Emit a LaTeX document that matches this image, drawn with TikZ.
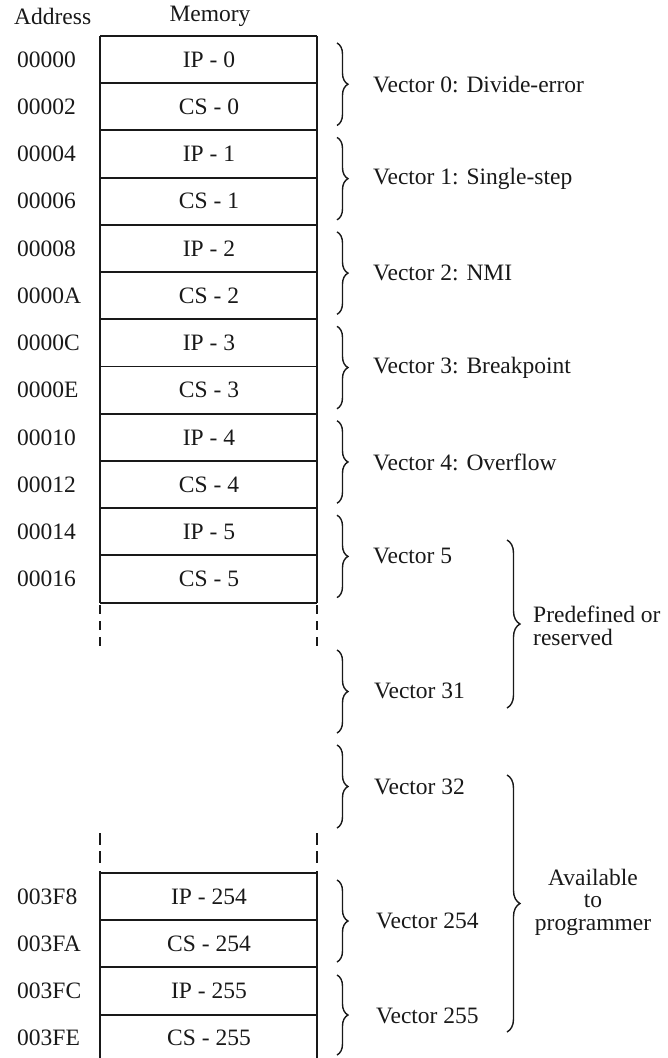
\documentclass[tikz,border=0pt]{standalone}
\usepackage{fontspec}
\setmainfont{Liberation Serif}
\usetikzlibrary{decorations.pathreplacing}
\begin{document}
\begin{tikzpicture}[x=1pt,y=-1pt,
  txt/.style={font=\fontsize{23.5}{22.5}\selectfont, inner sep=0pt, text=black!90},
  cell/.style={txt, anchor=center},
  addr/.style={txt, anchor=west},
  vec/.style={txt, anchor=west},
  memline/.style={line width=1.9pt, draw=black!90},
  br/.style={line width=1.4pt, draw=black!90, decorate, decoration={brace, amplitude=11pt}},
]
\useasboundingbox (0,0) rectangle (667,1058);
% headers
\node[txt, anchor=west] (hAddr) at (14,16) {Address};
\node[txt] (hMem) at (210,16) {Memory};
% top memory block
\foreach \k/\ad/\ce in {0/00000/IP - 0, 1/00002/CS - 0, 2/00004/IP - 1, 3/00006/CS - 1,
  4/00008/IP - 2, 5/0000A/CS - 2, 6/0000C/IP - 3, 7/0000E/CS - 3,
  8/00010/IP - 4, 9/00012/CS - 4, 10/00014/IP - 5, 11/00016/CS - 5}{
  \pgfmathsetmacro\yc{36+47.22*(\k+0.5)}
  \node[addr] (a\k) at (17,\yc) {\ad};
  \node[cell] (c\k) at (209,\yc) {\ce};
}
\foreach \k in {0,...,12}{
  \draw[memline] (100,{36+47.22*\k}) -- (317,{36+47.22*\k});
}
\draw[memline] (100,36) -- (100,603);
\draw[memline] (317,36) -- (317,603);
\draw[memline, dash pattern=on 9pt off 7pt] (100,605) -- (100,648);
\draw[memline, dash pattern=on 9pt off 7pt] (317,605) -- (317,648);
% bottom memory block
\draw[memline, dash pattern=on 12pt off 6pt] (100,833) -- (100,863);
\draw[memline, dash pattern=on 12pt off 6pt] (317,833) -- (317,863);
\draw[memline] (100,871) -- (100,1058);
\draw[memline] (317,871) -- (317,1058);
\foreach \k in {0,...,3}{
  \draw[memline] (100,{873+47.2*\k}) -- (317,{873+47.2*\k});
}
\foreach \k/\ad/\ce in {0/003F8/IP - 254, 1/003FA/CS - 254, 2/003FC/IP - 255, 3/003FE/CS - 255}{
  \pgfmathsetmacro\yc{873+47.2*(\k+0.5)}
  \node[addr] (b\k) at (17,\yc) {\ad};
  \node[cell] (d\k) at (209,\yc) {\ce};
}
% vector braces (top)
\foreach \k/\t in {0/{Vector 0: Divide-error}, 1/{Vector 1: Single-step}, 2/{Vector 2: NMI},
  3/{Vector 3: Breakpoint}, 4/{Vector 4: Overflow}, 5/{Vector 5}}{
  \draw[br] (337,{36+94.44*\k+7}) -- (337,{36+94.44*(\k+1)-5});
  \node[vec] (v\k) at (373,{36+94.44*\k+47.22+1}) {\t};
}
\draw[br] (337,650) -- (337,733);
\node[vec] (v31) at (374,691) {Vector 31};
\draw[br] (337,745) -- (337,828);
\node[vec] (v32) at (374,787) {Vector 32};
\draw[br] (337,880) -- (337,962);
\node[vec] (v254) at (376,921) {Vector 254};
\draw[br] (337,975) -- (337,1055);
\node[vec] (v255) at (376,1016) {Vector 255};
% group braces
\draw[br, decoration={brace, amplitude=13pt}] (507,540) -- (507,708);
\node[txt, anchor=west, align=left] (pre) at (533,626) {Predefined or\\reserved};
\draw[br, decoration={brace, amplitude=13pt}] (507,775) -- (507,1032);
\node[txt, align=center] (avail) at (593,902) {Available\\to\\programmer};
\end{tikzpicture}
\end{document}
